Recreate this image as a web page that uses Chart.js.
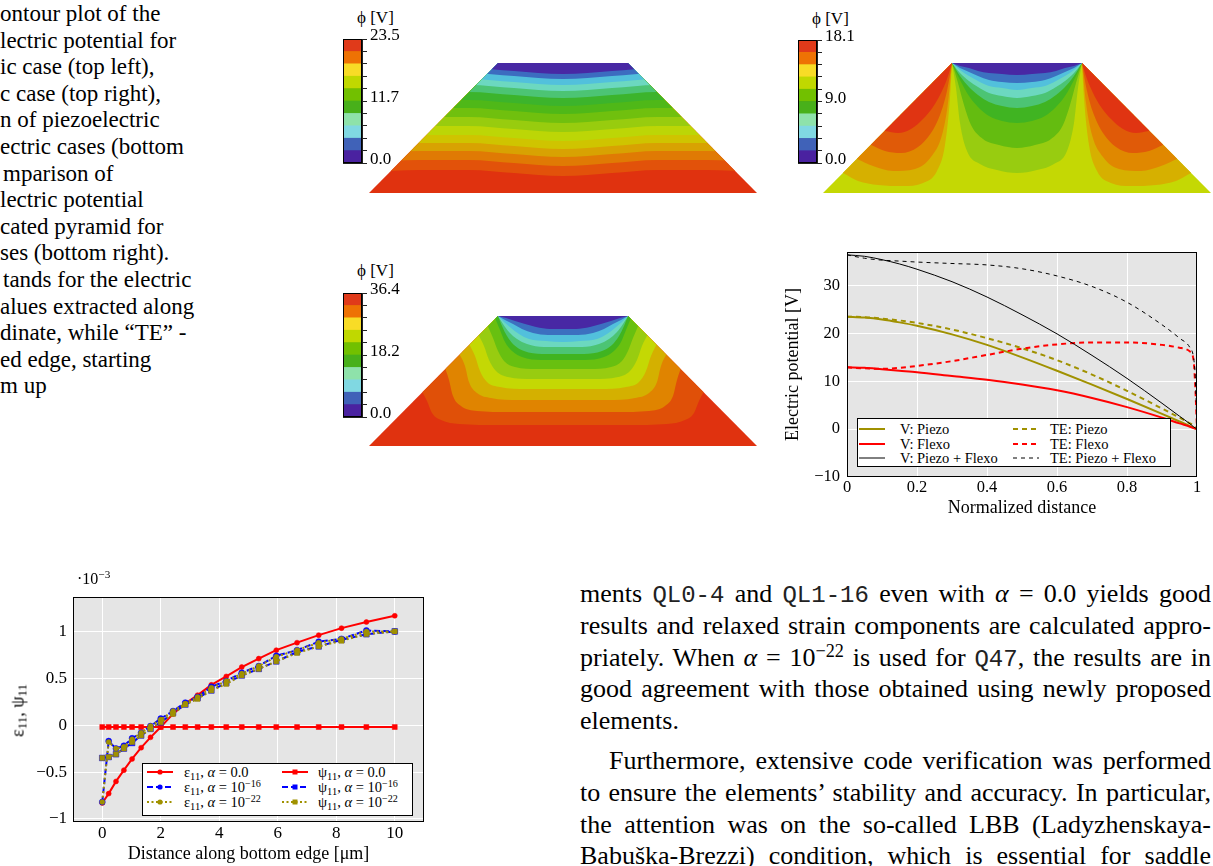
<!DOCTYPE html>
<html>
<head>
<meta charset="utf-8">
<title>Electric potential in the truncated pyramid</title>
<script src="https://cdn.jsdelivr.net/npm/chart.js"></script>
<style>
  body { margin: 0; background: #fff; font-family: 'Liberation Serif', 'Times New Roman', serif; color: #000; }
  #page { position: relative; width: 1213px; height: 866px; overflow: hidden; }
  #page > * { position: absolute; }
  .cap { left: 0; font-size: 23px; line-height: 26.6px; white-space: nowrap; }
  .txt { left: 580px; width: 631px; font-size: 26px; line-height: 31.6px; white-space: nowrap; text-align: justify; text-align-last: justify; }
  .txt.last { text-align-last: left; }
  .txt.indent { text-indent: 29px; }
  .tt { font-family: 'Liberation Mono', 'DejaVu Sans Mono', monospace; font-size: 24px; color: #222; }
  sup { font-size: 0.7em; vertical-align: 0.5em; line-height: 0; }
  sub { font-size: 0.72em; vertical-align: -0.25em; line-height: 0; }
  .phi { font-size: 17px; line-height: 20px; white-space: nowrap; }
  .legend { border: 1px solid #000; background: #fff; box-sizing: border-box; }
  .legend .item { position: absolute; height: 16px; line-height: 16px; display: flex; align-items: center; white-space: nowrap; }
  canvas { display: block; }
</style>
</head>
<body>
<div id="page">

  <!-- figure caption, cut at the left edge -->
  <div class="cap" style="top:1px">ontour plot of the</div>
  <div class="cap" style="top:27.6px">lectric potential for</div>
  <div class="cap" style="top:54.2px">ic case (top left),</div>
  <div class="cap" style="top:80.8px">c case (top right),</div>
  <div class="cap" style="top:107.4px">n of piezoelectric</div>
  <div class="cap" style="top:134px">ectric cases (bottom</div>
  <div class="cap" style="top:160.6px;left:3px">mparison of</div>
  <div class="cap" style="top:187.2px">lectric potential</div>
  <div class="cap" style="top:213.8px">cated pyramid for</div>
  <div class="cap" style="top:240.4px">ses (bottom right).</div>
  <div class="cap" style="top:267px;left:3px">tands for the electric</div>
  <div class="cap" style="top:293.6px">alues extracted along</div>
  <div class="cap" style="top:320.2px">dinate, while “TE” -</div>
  <div class="cap" style="top:346.8px">ed edge, starting</div>
  <div class="cap" style="top:373.4px">m up</div>

  <!-- contour panels -->
  <div class="phi" style="left:357px;top:8px">ϕ [V]</div>
  <canvas id="cbPiezo" width="64" height="152" style="left:343px;top:25px"></canvas>
  <canvas id="mapPiezo" width="388" height="130" style="left:369px;top:63px"></canvas>

  <div class="phi" style="left:812px;top:8.5px">ϕ [V]</div>
  <canvas id="cbFlexo" width="64" height="151" style="left:798px;top:26px"></canvas>
  <canvas id="mapFlexo" width="388" height="130" style="left:823px;top:63px"></canvas>

  <div class="phi" style="left:357px;top:261px">ϕ [V]</div>
  <canvas id="cbBoth" width="64" height="152" style="left:343px;top:279px"></canvas>
  <canvas id="mapBoth" width="388" height="130" style="left:369px;top:316px"></canvas>

  <!-- potential along distance -->
  <canvas id="potentialChart" width="438" height="292" style="left:775px;top:232px"></canvas>
  <div id="legendPotential" class="legend" style="left:857px;top:418px;width:314px;height:49px"></div>

  <!-- strain along bottom edge -->
  <canvas id="strainChart" width="430" height="296" style="left:0;top:570px"></canvas>
  <div style="left:77px;top:570px;font-size:16px;line-height:18px">·10<sup>−3</sup></div>
  <div style="left:-22px;top:700px;width:80px;text-align:center;font-size:18px;line-height:21px;transform:rotate(-90deg)">ε<sub>11</sub>, ψ<sub>11</sub></div>
  <div id="legendStrain" class="legend" style="left:142px;top:763px;width:271px;height:53px"></div>

  <!-- body text -->
  <div class="txt" style="top:578.4px">ments <span class="tt">QL0-4</span> and <span class="tt">QL1-16</span> even with <i>α</i> = 0.0 yields good</div>
  <div class="txt" style="top:610px">results and relaxed strain components are calculated appro-</div>
  <div class="txt" style="top:641.6px">priately. When <i>α</i> = 10<sup>−22</sup> is used for <span class="tt">Q47</span>, the results are in</div>
  <div class="txt" style="top:673.2px">good agreement with those obtained using newly proposed</div>
  <div class="txt last" style="top:704.8px">elements.</div>
  <div class="txt indent" style="top:745.4px">Furthermore, extensive code verification was performed</div>
  <div class="txt" style="top:777px">to ensure the elements’ stability and accuracy. In particular,</div>
  <div class="txt" style="top:808.6px">the attention was on the so-called LBB (Ladyzhenskaya-</div>
  <div class="txt" style="top:840.2px">Babuška-Brezzi) condition, which is essential for saddle</div>
</div>

<script>
// ---------- potential along the pyramid (normalized distance) ----------
const distNorm = [0, 0.05, 0.1, 0.15, 0.2, 0.3, 0.4, 0.5, 0.6, 0.7, 0.8, 0.9, 0.95, 0.98, 0.99, 0.995, 1];
const vPiezo  = [23.5, 23.3, 22.9, 22.3, 21.6, 19.8, 17.6, 15.0, 12.2, 9.3, 6.3, 3.2, 1.6, 0.6, 0.3, 0.15, 0];
const tePiezo = [23.5, 23.4, 23.1, 22.7, 22.2, 20.8, 19.0, 16.9, 14.4, 11.4, 8.0, 4.3, 2.4, 1.2, 0.8, 0.4, 0];
const vFlexo  = [12.9, 12.8, 12.5, 12.2, 11.9, 11.1, 10.3, 9.3, 8.1, 6.5, 4.6, 2.4, 1.2, 0.5, 0.25, 0.12, 0];
const teFlexo = [12.9, 12.7, 12.6, 12.8, 13.2, 14.2, 15.5, 16.8, 17.7, 18.1, 18.1, 17.6, 17.0, 16.2, 14.5, 9.0, 0];
const vBoth   = [36.4, 36.1, 35.4, 34.5, 33.4, 30.8, 27.6, 23.9, 19.9, 15.4, 10.6, 5.4, 2.7, 1.1, 0.5, 0.25, 0];
const teBoth  = [36.4, 35.7, 35.3, 35.1, 34.9, 34.6, 34.3, 33.5, 32.0, 29.8, 26.5, 21.8, 19.0, 17.0, 15.0, 11.0, 0];
const potentialLabels = ['V: Piezo', 'TE: Piezo', 'V: Flexo', 'TE: Flexo', 'V: Piezo + Flexo', 'TE: Piezo + Flexo'];
const xTicksPot = [0, 0.2, 0.4, 0.6, 0.8, 1];
const yTicksPot = [-10, 0, 10, 20, 30];

// ---------- strain along the bottom edge (values x 1e-3) ----------
const distEdge = [0, 0.22, 0.47, 0.74, 1.02, 1.33, 1.65, 2.0, 2.42, 2.84, 3.26, 3.73, 4.24, 4.77, 5.35, 5.95, 6.66, 7.4, 8.18, 9.03, 10];
const eps0  = [-0.83, -0.73, -0.60, -0.48, -0.36, -0.24, -0.13, -0.02, 0.12, 0.23, 0.32, 0.43, 0.52, 0.62, 0.71, 0.80, 0.88, 0.96, 1.035, 1.10, 1.167];
const psi0  = [-0.02, -0.02, -0.02, -0.02, -0.02, -0.02, -0.02, -0.02, -0.02, -0.02, -0.02, -0.02, -0.02, -0.02, -0.02, -0.02, -0.02, -0.02, -0.02, -0.02, -0.02];
const eps16 = [-0.82, -0.17, -0.25, -0.22, -0.14, -0.08, -0.01, 0.07, 0.15, 0.24, 0.30, 0.41, 0.47, 0.56, 0.63, 0.74, 0.80, 0.89, 0.92, 1.01, 1.00];
const psi16 = [-0.35, -0.34, -0.31, -0.25, -0.19, -0.11, -0.04, 0.03, 0.13, 0.22, 0.29, 0.37, 0.45, 0.53, 0.60, 0.68, 0.78, 0.84, 0.91, 0.97, 1.00];
const eps22 = [-0.82, -0.18, -0.25, -0.23, -0.15, -0.08, -0.01, 0.06, 0.15, 0.23, 0.30, 0.40, 0.47, 0.55, 0.63, 0.73, 0.80, 0.88, 0.92, 1.00, 1.00];
const psi22 = [-0.35, -0.34, -0.31, -0.25, -0.18, -0.11, -0.04, 0.03, 0.12, 0.22, 0.28, 0.37, 0.44, 0.53, 0.60, 0.68, 0.77, 0.84, 0.90, 0.97, 1.00];
const strainLabels = ['ε<sub>11</sub>, <i>α</i> = 0.0', 'ψ<sub>11</sub>, <i>α</i> = 0.0',
  'ε<sub>11</sub>, <i>α</i> = 10<sup>−16</sup>', 'ψ<sub>11</sub>, <i>α</i> = 10<sup>−16</sup>',
  'ε<sub>11</sub>, <i>α</i> = 10<sup>−22</sup>', 'ψ<sub>11</sub>, <i>α</i> = 10<sup>−22</sup>'];
const xTicksStrain = [0, 2, 4, 6, 8, 10];
const yTicksStrain = [-1, -0.5, 0, 0.5, 1];

// ---------- contour maps: band boundaries (local units, half curves up to the symmetry line) ----------
const trapezoid = [[0, 0], [388, 0], [259, 130], [129, 130]];
const piezoX = [0, 50, 100, 145, 194];
const piezoLevels = [
  [21, 23, 23, 20, 17], [31, 33, 33, 30, 27], [40, 42, 42, 39, 36], [48, 50, 50, 47, 44],
  [56, 58, 58, 55, 52], [66, 67, 67, 64, 61], [75, 76, 76, 73, 70], [84, 85, 85, 82, 79],
  [92, 93, 93, 90, 87], [100, 101, 101, 98, 95], [107, 108, 108, 105, 102], [113, 114, 114, 111, 108],
  [119, 120, 120, 117, 114], [125, 125, 125, 122, 119]
];
const flexoWedgeX = [
  [20, 35, 55, 80, 100, 114, 122, 127, 129], [34, 50, 70, 92, 108, 119, 125, 129],
  [48, 62, 78, 95, 108, 117, 124, 129], [62, 75, 88, 100, 110, 118, 124, 129]
];
const flexoWedgeY = [
  [20, 12, 8, 7, 10, 22, 48, 95, 130], [34, 27, 22, 24, 36, 58, 90, 130],
  [48, 42, 40, 46, 60, 78, 102, 130], [62, 60, 64, 74, 86, 100, 114, 130]
];
const flexoBowlX = [
  [129, 133, 137, 144, 157, 174, 194], [129, 135, 141, 148, 160, 176, 194],
  [129, 137, 146, 155, 166, 179, 194], [129, 137, 146, 155, 166, 179, 194],
  [129, 137, 146, 155, 166, 179, 194], [129, 137, 146, 155, 166, 179, 194],
  [129, 137, 146, 155, 166, 179, 194], [129, 137, 146, 155, 166, 179, 194]
];
const flexoBowlY = [
  [130, 105, 70, 42, 29, 23, 20], [130, 110, 88, 68, 54, 48, 45],
  [130, 113, 97, 86, 77, 72, 70], [130, 117, 106, 98, 91, 87, 85],
  [130, 120, 112, 106, 100, 97, 95], [130, 123, 117, 112, 107, 105, 103],
  [130, 125, 121, 117, 113, 111, 110], [130, 127, 125, 122, 120, 119, 118]
];
const bothX = [
  [50, 58, 63, 72, 90, 130, 194], [74, 80, 84, 92, 108, 140, 194], [88, 96, 100, 108, 122, 150, 194],
  [98, 106, 111, 118, 131, 158, 194], [108, 115, 120, 127, 139, 164, 194], [118, 124, 129, 135, 146, 168, 194],
  [126, 131, 136, 143, 153, 172, 194], [129, 133, 138, 145, 155, 173, 194], [129, 134, 140, 148, 158, 175, 194],
  [129, 135, 142, 150, 160, 177, 194], [129, 136, 144, 153, 164, 179, 194], [129, 137, 146, 156, 167, 181, 194]
];
const bothY = [
  [60, 45, 33, 26, 22, 21, 21], [84, 66, 50, 40, 35, 34, 34], [96, 80, 64, 53, 48, 46, 46],
  [106, 90, 75, 64, 59, 57, 57], [114, 100, 86, 75, 69, 67, 67], [122, 108, 95, 85, 79, 77, 77],
  [128, 116, 104, 95, 89, 86, 86], [130, 120, 110, 101, 95, 92, 92], [130, 122, 114, 107, 102, 99, 99],
  [130, 124, 118, 112, 107, 105, 104], [130, 126, 122, 117, 113, 111, 111], [130, 128, 125, 122, 119, 117, 117]
];
const cbLabelsPiezo = ['0.0', '11.7', '23.5'];
const cbLabelsFlexo = ['0.0', '9.0', '18.1'];
const cbLabelsBoth  = ['0.0', '18.2', '36.4'];

// ---------- colours ----------
const olive = '#a09100';
const cbColors = ['#4a22a0', '#4062b8', '#80d8e2', '#8ee2aa', '#48b01a', '#72c000', '#c0d800', '#f8dc26', '#ee7204', '#e03a1a'];
const piezoColors = ['#e2520a', '#e07a04', '#d8a202', '#cfc400', '#bcd606', '#98cc0e', '#70c00e', '#4fb818',
  '#3cb42c', '#4cc474', '#6cd8c0', '#52c0dc', '#3c6cc0', '#4828a4'];
const wedgeColors = ['#d6b000', '#e08800', '#e05a08', '#e03412'];
const bowlColors = ['#98cc10', '#64bc10', '#40b422', '#4cc474', '#6cd8c0', '#52c0dc', '#3c70c0', '#4828a4'];
const bothColors = ['#e05008', '#e08400', '#d4b000', '#c4d804', '#98cc10', '#68c010', '#40b420', '#4cc474',
  '#6cd8c0', '#52c0dc', '#3c70c0', '#4828a4'];

Chart.defaults.font.family = "'Liberation Serif', 'Times New Roman', serif";
Chart.defaults.color = '#000';

const frame = {
  id: 'frame',
  beforeDraw(chart, args, opts) {
    if (!opts || !opts.bg) return;
    const { ctx, chartArea: a } = chart;
    ctx.save();
    ctx.fillStyle = opts.bg;
    ctx.fillRect(a.left, a.top, a.width, a.height);
    ctx.restore();
  },
  afterDatasetsDraw(chart) {
    const { ctx, chartArea: a } = chart;
    ctx.save();
    ctx.strokeStyle = '#000';
    ctx.lineWidth = 1;
    ctx.strokeRect(Math.round(a.left) + 0.5, Math.round(a.top) + 0.5, Math.round(a.width) - 1, Math.round(a.height) - 1);
    ctx.restore();
  }
};

const trapClip = {
  id: 'trapClip',
  beforeDatasetsDraw(chart) {
    const { ctx, scales: { x, y } } = chart;
    ctx.save();
    ctx.beginPath();
    trapezoid.forEach(([px, py], i) => {
      const X = x.getPixelForValue(px), Y = y.getPixelForValue(py);
      if (i) ctx.lineTo(X, Y); else ctx.moveTo(X, Y);
    });
    ctx.closePath();
    ctx.clip();
  },
  afterDatasetsDraw(chart) { chart.ctx.restore(); }
};

const setTicks = values => scale => { scale.ticks = values.map(v => ({ value: v })); };
const fmt = v => (v < 0 ? '\u2212' + Math.abs(v) : String(v));
const width = trapezoid[1][0];

function toPoints(xs, ys) { return xs.map((x, i) => ({ x, y: ys[i] })); }
// half curve -> full symmetric curve
function mirrored(xs, ys) {
  const pts = toPoints(xs, ys);
  for (let i = xs.length - 2; i >= 0; i--) pts.push({ x: width - xs[i], y: ys[i] });
  return pts;
}
// curve on the left flank -> same curve on the right flank
function flipped(xs, ys) {
  return xs.map((x, i) => ({ x: width - x, y: ys[i] })).reverse();
}

function contourMap(id, baseColor, curves, colors) {
  const layers = [[{ x: 0, y: 0 }, { x: width, y: 0 }]].concat(curves);
  const fills = [baseColor].concat(colors);
  new Chart(document.getElementById(id), {
    type: 'line',
    data: {
      datasets: layers.map((pts, i) => ({
        data: pts, fill: 'end', backgroundColor: fills[i],
        borderColor: 'rgba(0,0,0,0)', borderWidth: 0, pointRadius: 0,
        cubicInterpolationMode: 'monotone', order: layers.length - i
      }))
    },
    options: {
      responsive: false, animation: false, events: [],
      layout: { padding: 0 },
      plugins: { legend: { display: false }, tooltip: { enabled: false } },
      scales: {
        x: { type: 'linear', min: 0, max: width, display: false },
        y: { min: 0, max: trapezoid[2][1], display: false }
      }
    },
    plugins: [trapClip]
  });
}

function colorbar(id, labels) {
  const n = cbColors.length;
  new Chart(document.getElementById(id), {
    type: 'bar',
    data: {
      labels: [''],
      datasets: cbColors.map(c => ({ data: [1], backgroundColor: c, borderWidth: 0, barPercentage: 1, categoryPercentage: 1 }))
    },
    options: {
      responsive: false, animation: false, events: [],
      layout: { padding: { top: 14, bottom: 14, left: 0, right: 0 } },
      plugins: { legend: { display: false }, tooltip: { enabled: false } },
      scales: {
        x: { display: false, stacked: true },
        y: {
          stacked: true, position: 'right', min: 0, max: n, z: 1,
          afterFit: s => { s.width = 45; },
          afterBuildTicks: s => { s.ticks = cbColors.map((c, i) => ({ value: i })).concat([{ value: n }]); },
          grid: { color: '#222', lineWidth: 1, tickLength: 5 },
          border: { color: '#222' },
          ticks: {
            autoSkip: false, padding: 3, labelOffset: -3, font: { size: 17 },
            callback: v => (v === 0 ? labels[0] : v === n / 2 ? labels[1] : v === n ? labels[2] : '')
          }
        }
      }
    },
    plugins: [frame]
  });
}

// piezo map: near-horizontal bands
contourMap('mapPiezo', '#e0320f', piezoLevels.map(ys => mirrored(piezoX, ys)), piezoColors);
colorbar('cbPiezo', cbLabelsPiezo);

// flexo map: wedges along both flanks, bowls under the top face
const flexoCurves = [], flexoColors = [];
flexoWedgeX.forEach((xs, i) => {
  flexoCurves.push(toPoints(xs, flexoWedgeY[i]), flipped(xs, flexoWedgeY[i]));
  flexoColors.push(wedgeColors[i], wedgeColors[i]);
});
flexoBowlX.forEach((xs, i) => { flexoCurves.push(mirrored(xs, flexoBowlY[i])); flexoColors.push(bowlColors[i]); });
contourMap('mapFlexo', '#c4d804', flexoCurves, flexoColors);
colorbar('cbFlexo', cbLabelsFlexo);

// piezo + flexo map: nested bowls
contourMap('mapBoth', '#e0320f', bothX.map((xs, i) => mirrored(xs, bothY[i])), bothColors);
colorbar('cbBoth', cbLabelsBoth);

// ---------- line chart: electric potential ----------
const potentialValues = [vPiezo, tePiezo, vFlexo, teFlexo, vBoth, teBoth];
const potentialStyles = [
  { color: olive, width: 2, dash: [] }, { color: olive, width: 2, dash: [5, 4] },
  { color: '#ff0000', width: 2, dash: [] }, { color: '#ff0000', width: 2, dash: [5, 4] },
  { color: '#000', width: 1, dash: [] }, { color: '#000', width: 1, dash: [4, 4] }
];

new Chart(document.getElementById('potentialChart'), {
  type: 'line',
  data: {
    datasets: potentialValues.map((vals, i) => ({
      label: potentialLabels[i],
      data: distNorm.map((x, k) => ({ x, y: vals[k] })),
      borderColor: potentialStyles[i].color, borderWidth: potentialStyles[i].width,
      borderDash: potentialStyles[i].dash, pointRadius: 0, fill: false,
      cubicInterpolationMode: 'monotone', order: potentialValues.length - i
    }))
  },
  options: {
    responsive: false, animation: false, events: [],
    layout: { padding: { top: 20, right: 16, left: 0, bottom: 0 } },
    plugins: { legend: { display: false }, tooltip: { enabled: false }, frame: { bg: '#e5e5e5' } },
    scales: {
      x: {
        type: 'linear', min: 0, max: 1,
        afterBuildTicks: setTicks(xTicksPot), afterFit: s => { s.height = 47; },
        grid: { color: '#fff', lineWidth: 1, drawTicks: false }, border: { display: false },
        ticks: { autoSkip: false, maxRotation: 0, padding: 1, font: { size: 16.5 }, callback: fmt },
        title: { display: true, text: 'Normalized distance', font: { size: 18 }, padding: { top: 0, bottom: 5 } }
      },
      y: {
        min: -10, max: 37,
        afterBuildTicks: setTicks(yTicksPot), afterFit: s => { s.width = 72; },
        grid: { color: '#fff', lineWidth: 1, drawTicks: false }, border: { display: false },
        ticks: { autoSkip: false, padding: 7, font: { size: 16.5 }, callback: fmt },
        title: { display: true, text: 'Electric potential [V]', font: { size: 18 }, padding: { top: 7, bottom: 0 } }
      }
    }
  },
  plugins: [frame]
});

// ---------- line chart: strain components ----------
const strainValues = [eps0, psi0, eps16, psi16, eps22, psi22];
const strainStyles = [
  { color: '#ff0000', dash: [], marker: 'circle', r: 2.5 }, { color: '#ff0000', dash: [], marker: 'rect', r: 3.5 },
  { color: '#0000ff', dash: [6, 3], marker: 'circle', r: 3 }, { color: '#0000ff', dash: [6, 3], marker: 'rect', r: 4 },
  { color: olive, dash: [2, 2.5], marker: 'circle', r: 2.5 }, { color: olive, dash: [2, 2.5], marker: 'rect', r: 3.5 }
];

new Chart(document.getElementById('strainChart'), {
  type: 'line',
  data: {
    datasets: strainValues.map((vals, i) => ({
      data: distEdge.map((x, k) => ({ x, y: vals[k] })),
      borderColor: strainStyles[i].color, backgroundColor: strainStyles[i].color,
      borderWidth: 2, borderDash: strainStyles[i].dash, tension: 0, fill: false,
      pointStyle: strainStyles[i].marker, pointRadius: strainStyles[i].r,
      pointBackgroundColor: strainStyles[i].color, pointBorderColor: strainStyles[i].color, pointBorderWidth: 0.5,
      order: strainValues.length - i
    }))
  },
  options: {
    responsive: false, animation: false, events: [],
    layout: { padding: { top: 27, right: 6, left: 0, bottom: 0 } },
    plugins: { legend: { display: false }, tooltip: { enabled: false }, frame: { bg: '#e5e5e5' } },
    scales: {
      x: {
        type: 'linear', min: -1, max: 11,
        afterBuildTicks: setTicks(xTicksStrain), afterFit: s => { s.height = 44; },
        grid: { color: '#fff', lineWidth: 1, drawTicks: false }, border: { display: false },
        ticks: { autoSkip: false, maxRotation: 0, padding: 1, font: { size: 17 }, callback: fmt },
        title: { display: true, text: 'Distance along bottom edge [μm]', font: { size: 18 }, padding: { top: 0, bottom: 1 } }
      },
      y: {
        min: -1.033, max: 1.367,
        afterBuildTicks: setTicks(yTicksStrain), afterFit: s => { s.width = 73; },
        grid: { color: '#fff', lineWidth: 1, drawTicks: false }, border: { display: false },
        ticks: { autoSkip: false, padding: 6, font: { size: 17 }, callback: fmt }
      }
    }
  },
  plugins: [frame]
});

// ---------- HTML legends placed inside the plot areas ----------
function legendSample(style, withMarker) {
  const dash = style.dash.length ? ` stroke-dasharray="${style.dash.join(' ')}"` : '';
  let mark = '';
  if (withMarker) {
    mark = style.marker === 'circle'
      ? `<circle cx="13" cy="5" r="2.6" fill="${style.color}"/>`
      : `<rect x="10.5" y="2.5" width="5" height="5" fill="${style.color}"/>`;
  }
  return `<svg width="26" height="10"><line x1="0" y1="5" x2="26" y2="5" stroke="${style.color}" stroke-width="${style.width || 2}"${dash}/>${mark}</svg>`;
}

function buildLegend(id, labels, styles, geom) {
  const box = document.getElementById(id);
  labels.forEach((lab, i) => {
    const row = Math.floor(i / 2), col = i % 2;
    const item = document.createElement('div');
    item.className = 'item';
    item.style.left = geom.colX[col] + 'px';
    item.style.top = geom.rowY[row] + 'px';
    item.style.fontSize = geom.font + 'px';
    item.innerHTML = legendSample(styles[i], geom.markers) +
      `<span style="margin-left:${geom.gap[col]}px">${lab}</span>`;
    box.appendChild(item);
  });
}

buildLegend('legendPotential', potentialLabels, potentialStyles,
  { colX: [1, 155], rowY: [2, 17, 31], gap: [15, 11], font: 14.5, markers: false });
buildLegend('legendStrain', strainLabels, strainStyles,
  { colX: [4, 139], rowY: [0, 15, 30], gap: [11, 10], font: 14.5, markers: true });
</script>
</body>
</html>
